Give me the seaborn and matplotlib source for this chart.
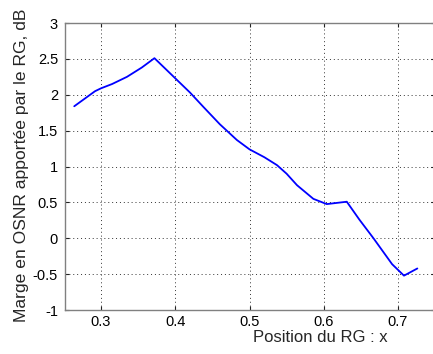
import matplotlib
matplotlib.use("Agg")
import matplotlib.pyplot as plt
import pandas as pd
import seaborn as sns

# values
position = [0.264, 0.28, 0.292, 0.30, 0.315, 0.335, 0.355, 0.372, 0.385, 0.40,
            0.42, 0.438, 0.46, 0.483, 0.50, 0.52, 0.537, 0.55, 0.564, 0.586,
            0.604, 0.631, 0.648, 0.667, 0.692, 0.708, 0.726]
marge = [1.84, 1.96, 2.05, 2.09, 2.15, 2.25, 2.38, 2.51, 2.38, 2.23,
         2.03, 1.83, 1.59, 1.37, 1.24, 1.13, 1.02, 0.90, 0.74, 0.55,
         0.477, 0.51, 0.26, 0.0, -0.36, -0.52, -0.42]
xticks = [0.3, 0.4, 0.5, 0.6, 0.7]
yticks = [-1, -0.5, 0, 0.5, 1, 1.5, 2, 2.5, 3]

df = pd.DataFrame({'x': position, 'marge': marge})

sns.set_theme(style="white")
plt.rcParams['font.family'] = ['Liberation Sans', 'DejaVu Sans']

fig = plt.figure(figsize=(4.33, 3.54), dpi=100)
ax = fig.add_axes([0.150, 0.124, 0.855, 0.811])

sns.lineplot(data=df, x='x', y='marge', color='#0000ff', linewidth=1.3, ax=ax)

ax.set_xlim(0.2515, 0.75)
ax.set_ylim(-1, 3)
ax.set_xticks(xticks)
ax.set_yticks(yticks)
ax.set_xticklabels([f'{t:g}' for t in xticks])
ax.set_yticklabels([f'{t:g}' for t in yticks])
ax.tick_params(direction='in', length=3, width=0.8, colors='#222222',
               labelsize=10.5, labelcolor='black', top=True, right=True,
               bottom=True, left=True, pad=5)
ax.tick_params(axis='x', pad=3.5)
ax.grid(True, linestyle=(0, (1, 3)), color='#333333', linewidth=0.7)
for sp in ax.spines.values():
    sp.set_color('#808080')
    sp.set_linewidth(1.0)

ax.set_xlabel('Position du RG : x', fontsize=12)
ax.set_ylabel('Marge en OSNR apportée par le RG, dB', fontsize=12.6)
ax.xaxis.set_label_coords(0.689, -0.068)
ax.yaxis.set_label_coords(-0.098, 0.505)

fig.savefig('out.png', dpi=100)
